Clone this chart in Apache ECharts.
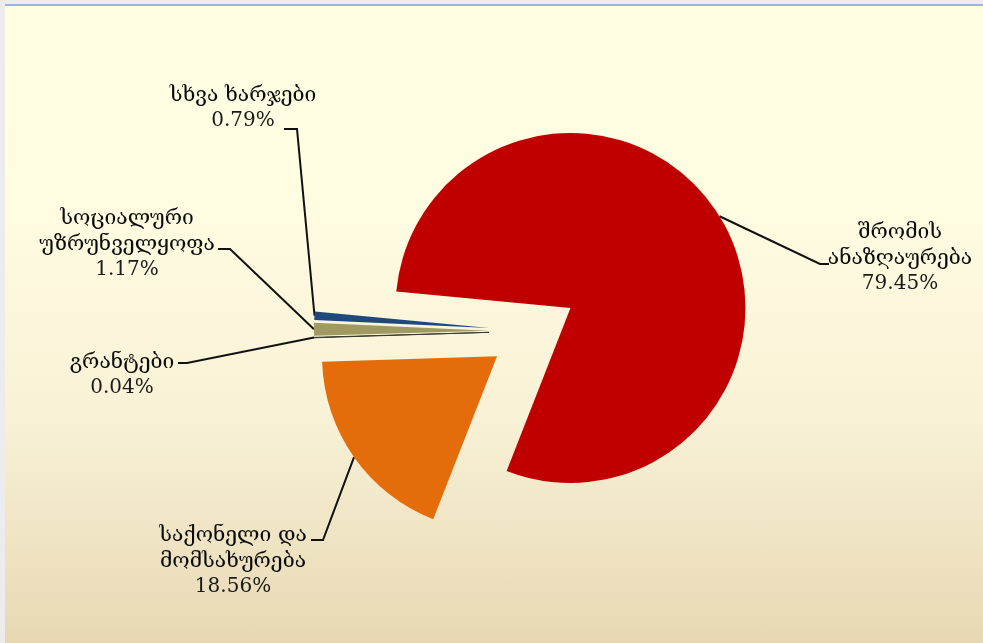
<!DOCTYPE html>
<html>
<head>
<meta charset="utf-8">
<script src="https://cdn.jsdelivr.net/npm/echarts@6/dist/echarts.min.js"></script>
<style>
  html, body { margin: 0; padding: 0; width: 983px; height: 643px; overflow: hidden; background: #ECECEF; }
  #frame { position: absolute; left: 5px; top: 4px; width: 978px; height: 639px; border-top: 2px solid #9DB4DD;
           background: linear-gradient(to bottom, #FFFEE3 0%, #FEFBE0 35%, #F8F1D6 65%, #E7D8B3 100%); box-sizing: border-box; }
  #main { position: absolute; left: 0; top: 0; width: 983px; height: 643px; }
</style>
</head>
<body>
<div id="frame"></div>
<div id="main"></div>
<script>
// ---- data ----
const names = ['საქონელი და\nმომსახურება', 'გრანტები', 'სოციალური\nუზრუნველყოფა', 'სხვა ხარჯები', 'შრომის\nანაზღაურება'];
const values = [18.56, 0.04, 1.17, 0.79, 79.45];

// ---- styles / layout ----
const colors = ['#E46C0A', '#3A3A30', '#A09A62', '#1F497D', '#C00000'];
const pieCenter = [533, 331];
const pieRadius = 175;
const explode = 44;
const startAngle = 248.6;
const labelPos = [[233, 561], [122, 375], [127, 244], [243, 108], [900, 258]];
const lineTail = [
  [[323, 540], [311, 540]],
  [[187, 363], [178, 363]],
  [[230, 249], [218, 249]],
  [[297, 129], [284, 129]],
  [[820, 264], [829, 264]]
];

const total = values.reduce((a, b) => a + b, 0);
const chart = echarts.init(document.getElementById('main'), null, { renderer: 'canvas' });

let cum = 0;
const series = values.map((v, k) => {
  const mid = (startAngle - (cum + v / 2) / total * 360) * Math.PI / 180;
  cum += v;
  const cx = pieCenter[0] + explode * Math.cos(mid);
  const cy = pieCenter[1] - explode * Math.sin(mid);
  return {
    type: 'pie',
    center: [cx, cy],
    radius: pieRadius,
    startAngle: startAngle,
    clockwise: true,
    avoidLabelOverlap: false,
    silent: true,
    emphasis: { disabled: true },
    data: names.map((n, i) => ({
      name: n,
      value: values[i],
      itemStyle: i === k
        ? (i === 1 ? { color: colors[i], borderColor: colors[i], borderWidth: 1 } : { color: colors[i] })
        : { color: 'rgba(0,0,0,0)' },
      label: { show: i === k },
      labelLine: { show: i === k }
    })),
    label: {
      position: 'outside',
      formatter: function (p) { return '{n|' + p.name + '}\n{v|' + p.value + '%}'; },
      color: '#0a0a0a',
      align: 'center',
      rich: {
        n: { fontSize: 21, lineHeight: 26, fontFamily: "'DejaVu Serif', 'DejaVu Sans', serif", color: '#0a0a0a', align: 'center' },
        v: { fontSize: 20, lineHeight: 25, fontFamily: "'DejaVu Serif', serif", color: '#1a1a1a', align: 'center' }
      }
    },
    labelLine: {
      length: 10,
      length2: 10,
      lineStyle: { color: '#111', width: 2 }
    },
    labelLayout: function (params) {
      const i = params.dataIndex;
      const p = params.labelLinePoints;
      return {
        x: labelPos[i][0],
        y: labelPos[i][1],
        align: 'center',
        verticalAlign: 'middle',
        labelLinePoints: p ? [p[0], lineTail[i][0], lineTail[i][1]] : undefined
      };
    }
  };
});

chart.setOption({ backgroundColor: 'transparent', animation: false, series: series });
</script>
</body>
</html>
